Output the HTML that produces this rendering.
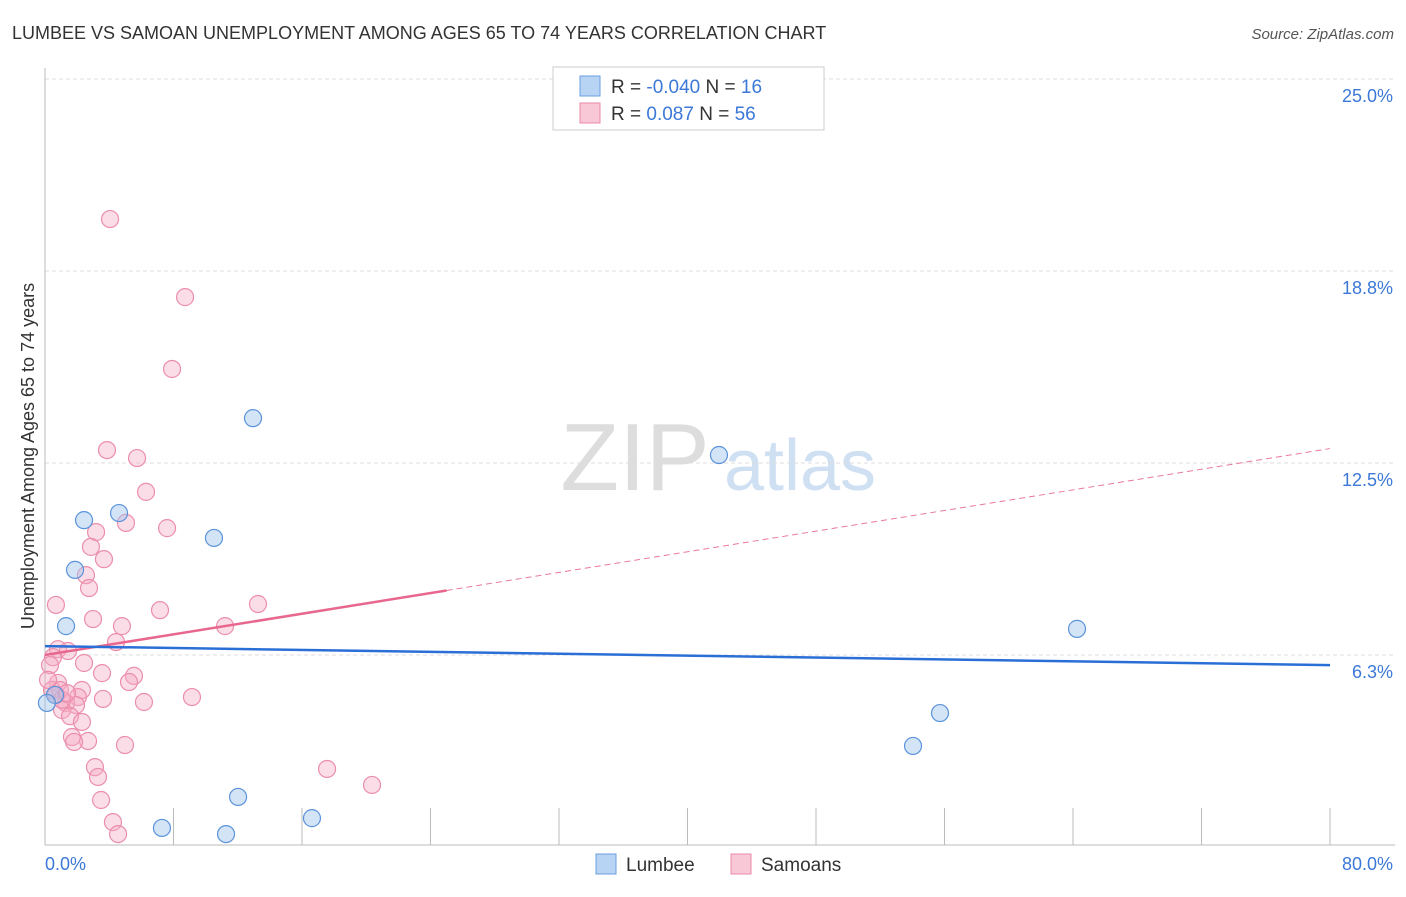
<!DOCTYPE html>
<html><head><meta charset="utf-8"><style>
body{margin:0;background:#fff;font-family:"Liberation Sans",sans-serif;}
svg text{font-family:"Liberation Sans",sans-serif;}
</style></head><body>
<svg width="1406" height="892" xmlns="http://www.w3.org/2000/svg">
<text x="12" y="39" font-size="18" fill="#333">LUMBEE VS SAMOAN UNEMPLOYMENT AMONG AGES 65 TO 74 YEARS CORRELATION CHART</text>
<text x="1394" y="39" font-size="15" fill="#555" font-style="italic" text-anchor="end">Source: ZipAtlas.com</text>
<g>
<text x="635" y="490" font-size="96" font-family="Liberation Serif,serif" fill="#ddd" text-anchor="middle">ZIP</text>
<text x="800" y="490" font-size="72" fill="#cfe0f3" text-anchor="middle">atlas</text>
</g>
<g id="grid"></g>
<g id="axes"></g>
<g id="marks"></g>
<text transform="translate(34,456) rotate(-90)" font-size="18" fill="#333" text-anchor="middle">Unemployment Among Ages 65 to 74 years</text>
<text x="45" y="870" font-size="18" fill="#3b78d8">0.0%</text>
<text x="1393" y="870" font-size="18" fill="#3b78d8" text-anchor="end">80.0%</text>
<g>
<rect x="553" y="67" width="271" height="63" fill="#fff" stroke="#ccc"/>
<rect x="580" y="76" width="20" height="20" fill="#b8d4f4" stroke="#6a9ee0"/>
<rect x="580" y="103" width="20" height="20" fill="#f9c8d6" stroke="#ea8aa8"/>
<text x="611" y="93" font-size="19" fill="#333">R = <tspan fill="#3b78d8">-0.040</tspan>   N = <tspan fill="#3b78d8">16</tspan></text>
<text x="611" y="120" font-size="19" fill="#333">R =   <tspan fill="#3b78d8">0.087</tspan>   N = <tspan fill="#3b78d8">56</tspan></text>
</g>
<g>
<rect x="596" y="854" width="20" height="20" fill="#b8d4f4" stroke="#6a9ee0"/>
<text x="626" y="871" font-size="19" fill="#333">Lumbee</text>
<rect x="731" y="854" width="20" height="20" fill="#f9c8d6" stroke="#ea8aa8"/>
<text x="761" y="871" font-size="19" fill="#333">Samoans</text>
</g>
</svg>
<script>
const yTicks=[25,18.75,12.5,6.25];
const yTickLabels=["25.0%","18.8%","12.5%","6.3%"];
const xTicks=[8,16,24,32,40,48,56,64,72,80];
const lumbeeX=[2.43,4.61,10.52,12.95,41.96,1.87,1.31,0.62,0.12,64.25,55.72,54.04,12.02,7.28,11.27,16.62];
const lumbeeY=[10.64,10.87,10.06,13.96,12.76,9.02,7.19,4.95,4.69,7.10,4.36,3.29,1.63,0.62,0.42,0.94];
const samoanX=[4.05,8.72,7.91,3.86,5.73,6.29,5.04,7.60,3.18,2.86,3.67,2.55,2.74,0.68,7.16,13.26,2.99,4.79,11.21,4.42,0.81,1.43,0.50,2.43,3.55,5.54,5.23,0.81,2.30,9.15,0.44,3.61,6.16,2.05,1.31,1.93,1.06,1.56,2.30,1.68,2.68,1.81,4.98,3.11,3.30,17.56,20.36,3.49,4.23,4.55,0.31,0.93,0.19,1.06,0.68,1.37];
const samoanY=[20.44,17.90,15.56,12.92,12.66,11.56,10.55,10.38,10.25,9.77,9.37,8.85,8.43,7.88,7.71,7.91,7.42,7.19,7.19,6.67,6.44,6.38,6.18,5.99,5.66,5.57,5.37,5.34,5.11,4.88,5.11,4.82,4.72,4.88,4.69,4.62,4.46,4.26,4.07,3.58,3.45,3.42,3.32,2.60,2.28,2.54,2.02,1.53,0.81,0.42,5.92,5.11,5.44,4.79,4.95,5.01];
const lumbeeTrend=[6.54,5.92];
const samoanTrend=[6.25,12.97];
const samoanSolidEnd=25;
const NS="http://www.w3.org/2000/svg";
const sx=v=>45+v/80*1285;
const sy=v=>847-v/25*768;
function mk(tag,at,parent){const e=document.createElementNS(NS,tag);for(const k in at)e.setAttribute(k,at[k]);document.getElementById(parent).appendChild(e);return e;}
yTicks.forEach((t,i)=>{
 const l=mk('line',{x1:45,x2:1395,y1:sy(t),y2:sy(t),stroke:'#ddd','stroke-dasharray':'4,3'},'grid');
 
 
 const tx=mk('text',{x:1393,y:sy(t)+23,'font-size':18,fill:'#3b78d8','text-anchor':'end'},'grid');
 tx.textContent=yTickLabels[i];
 
 
});
let a=mk('line',{x1:45,x2:45,y1:68,y2:845,stroke:'#bbb'},'axes');


a=mk('line',{x1:45,x2:1395,y1:845,y2:845,stroke:'#bbb'},'axes');


xTicks.forEach(t=>{
 const l=mk('line',{x1:sx(t),x2:sx(t),y1:808,y2:845,stroke:'#bbb'},'axes');
 
 
});
samoanX.forEach((x,i)=>{
 const c=mk('circle',{cx:sx(x),cy:sy(samoanY[i]),r:8.5,fill:'rgba(246,170,195,0.4)',stroke:'#eb8eac','stroke-width':1.2},'marks');
 
 
});
lumbeeX.forEach((x,i)=>{
 const c=mk('circle',{cx:sx(x),cy:sy(lumbeeY[i]),r:8.5,fill:'rgba(160,196,238,0.45)',stroke:'#5b93db','stroke-width':1.2},'marks');
 
 
});
const sAt=x=>samoanTrend[0]+(samoanTrend[1]-samoanTrend[0])*x/80;
let t=mk('line',{x1:sx(samoanSolidEnd),y1:sy(sAt(samoanSolidEnd)),x2:sx(80),y2:sy(samoanTrend[1]),stroke:'#e9799d','stroke-width':1,'stroke-dasharray':'6,4'},'marks');


t=mk('line',{x1:sx(0),y1:sy(samoanTrend[0]),x2:sx(samoanSolidEnd),y2:sy(sAt(samoanSolidEnd)),stroke:'#e8678f','stroke-width':2.5},'marks');


t=mk('line',{x1:sx(0),y1:sy(lumbeeTrend[0]),x2:sx(80),y2:sy(lumbeeTrend[1]),stroke:'#2a6fd6','stroke-width':2.5},'marks');


</script>
</body></html>
